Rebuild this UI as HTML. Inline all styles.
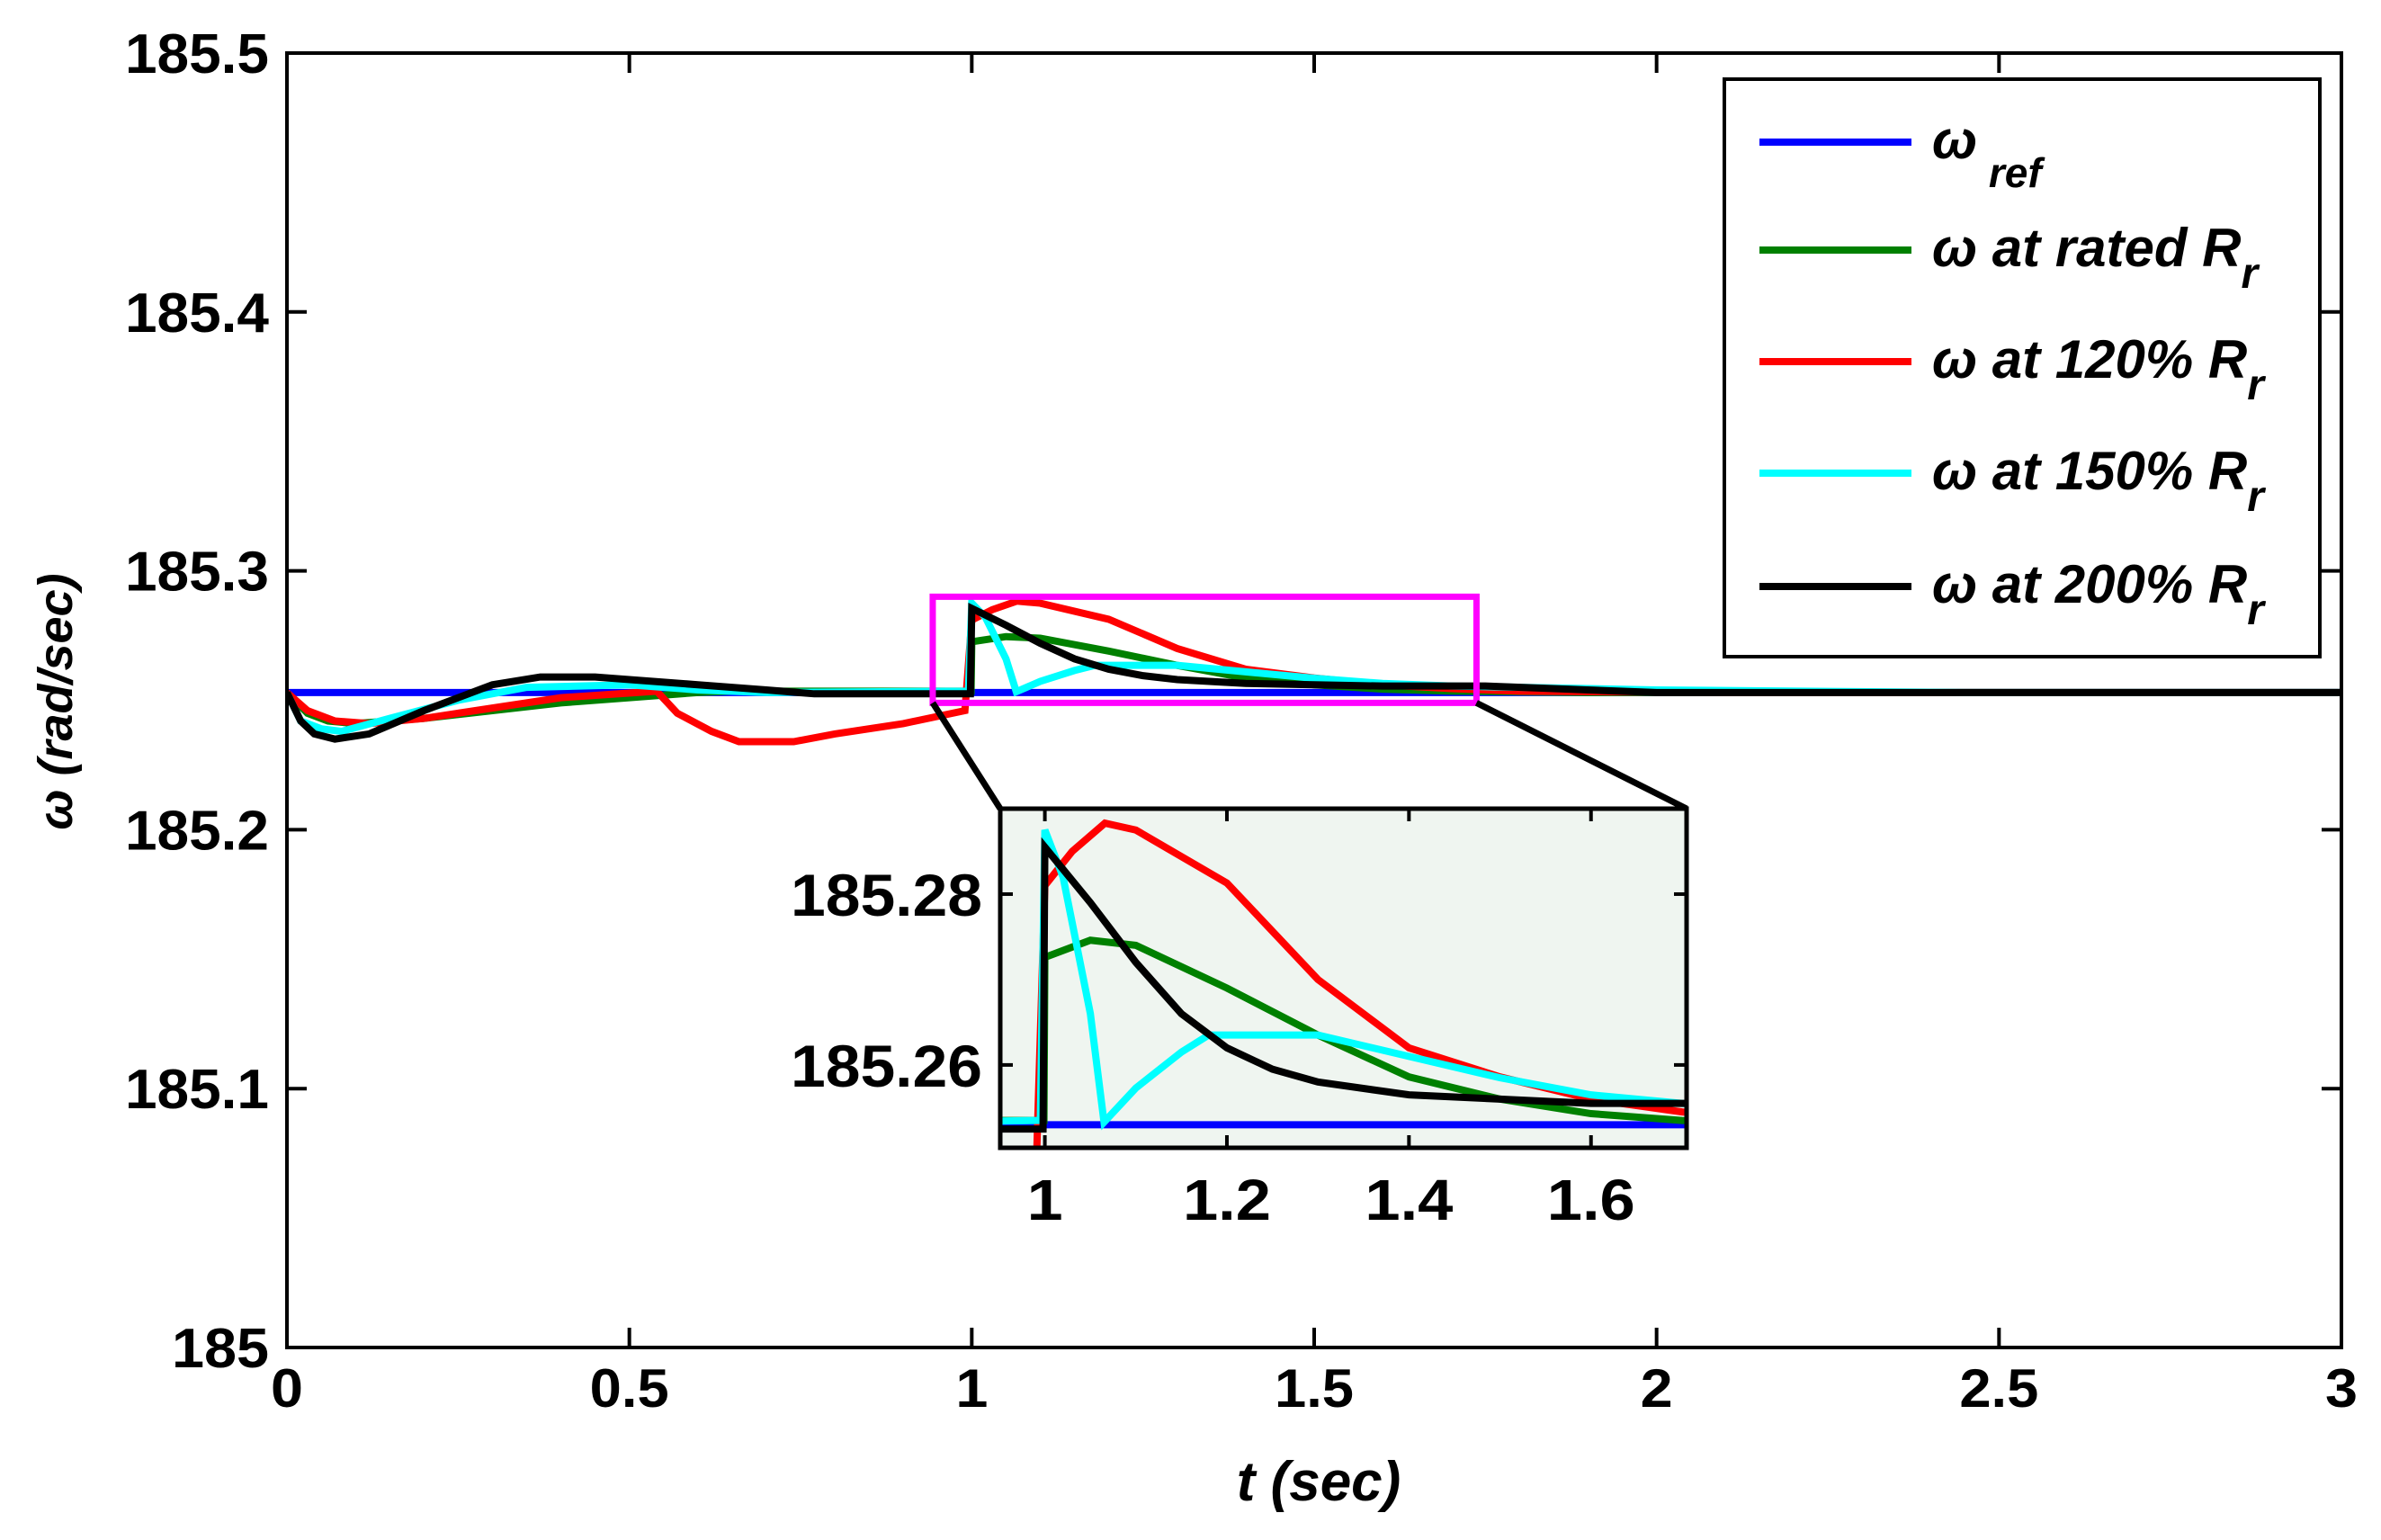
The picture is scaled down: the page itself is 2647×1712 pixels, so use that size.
<!DOCTYPE html>
<html><head><meta charset="utf-8"><style>
html,body{margin:0;padding:0;background:#fff}
svg{display:block}
text{font-family:"Liberation Sans",sans-serif;font-weight:bold}
</style></head><body>
<svg id="chart" width="2647" height="1712" viewBox="0 0 2647 1712" xmlns="http://www.w3.org/2000/svg"></svg>
<script>
const xTicks=[0,0.5,1,1.5,2,2.5,3];
const xTickLabels=["0","0.5","1","1.5","2","2.5","3"];
const yTicks=[185,185.1,185.2,185.3,185.4,185.5];
const yTickLabels=["185","185.1","185.2","185.3","185.4","185.5"];
const insetXTicks=[1,1.2,1.4,1.6];
const insetXTickLabels=["1","1.2","1.4","1.6"];
const insetYTicks=[185.26,185.28];
const insetYTickLabels=["185.26","185.28"];
const refT=[0,3];
const refV=[185.253,185.253];
const ratedT=[0,0.03,0.06,0.1,0.2,0.3,0.4,0.5,0.6,0.65,0.999,1.0,1.05,1.1,1.2,1.3,1.4,1.5,1.6,1.7,1.9,3];
const ratedV=[185.253,185.245,185.242,185.241,185.243,185.246,185.249,185.251,185.253,185.2535,185.2535,185.2726,185.2746,185.274,185.269,185.2635,185.2586,185.256,185.2543,185.2535,185.253,185.253];
const r120T=[0,0.03,0.07,0.12,0.2,0.3,0.4,0.54,0.57,0.62,0.66,0.74,0.8,0.9,0.99,1.0,1.03,1.066,1.1,1.2,1.3,1.4,1.5,1.6,1.7,1.8,2.1,3];
const r120V=[185.253,185.246,185.242,185.241,185.243,185.247,185.251,185.2535,185.245,185.238,185.234,185.234,185.237,185.241,185.246,185.281,185.285,185.2883,185.2875,185.2813,185.270,185.262,185.2586,185.256,185.2545,185.2535,185.253,185.253];
const r150T=[0,0.02,0.05,0.08,0.15,0.25,0.35,0.5,0.6,0.7,0.99,0.995,1.0,1.02,1.05,1.065,1.1,1.15,1.18,1.3,1.4,1.5,1.6,1.7,2.0,2.45,3];
const r150V=[185.253,185.242,185.239,185.238,185.243,185.250,185.255,185.256,185.254,185.253,185.2535,185.2535,185.2875,185.282,185.266,185.2533,185.2573,185.2615,185.2635,185.2635,185.261,185.2585,185.2565,185.2555,185.254,185.253,185.253];
const r200T=[0,0.02,0.04,0.07,0.12,0.2,0.3,0.37,0.45,0.6,0.7,0.77,0.998,1.0,1.05,1.1,1.15,1.2,1.25,1.3,1.4,1.5,1.6,1.75,2.0,3];
const r200V=[185.253,185.242,185.237,185.235,185.237,185.246,185.256,185.259,185.259,185.256,185.254,185.2525,185.2525,185.2855,185.279,185.272,185.266,185.262,185.2595,185.258,185.2565,185.256,185.2555,185.2555,185.253,185.253];
const series=[
 {name:"omega-ref",t:refT,v:refV,c:"#0000ff"},
 {name:"omega-rated",t:ratedT,v:ratedV,c:"#008000"},
 {name:"omega-120",t:r120T,v:r120V,c:"#ff0000"},
 {name:"omega-150",t:r150T,v:r150V,c:"#00ffff"},
 {name:"omega-200",t:r200T,v:r200V,c:"#000000"}];
const NS="http://www.w3.org/2000/svg";
const svg=document.getElementById('chart');
function mk(tag,attrs,parent){const e=document.createElementNS(NS,tag);for(const k in attrs)e.setAttribute(k,attrs[k]);(parent||svg).appendChild(e);return e;}
function numLen(s,d,p){let w=0;for(const ch of s)w+=(ch==='.')?p:d;return w;}
const L=319,R=2603,T=59,B=1498;
const X=t=>L+(t-0)/(3-0)*(R-L);
const Y=v=>B-(v-185)/(0.5)*(B-T);
const IL=1112,IR=1875,IT=899,IB=1276,IX0=0.951,IX1=1.705,IY0=185.2503,IY1=185.29;
const IXf=t=>IL+(t-IX0)/(IX1-IX0)*(IR-IL);
const IYf=v=>IB-(v-IY0)/(IY1-IY0)*(IB-IT);
const defs=mk('defs',{});
const cp=mk('clipPath',{id:'mainclip'},defs);mk('rect',{x:L,y:T,width:R-L,height:B-T},cp);
const cp2=mk('clipPath',{id:'insetclip'},defs);mk('rect',{x:IL,y:IT,width:IR-IL,height:IB-IT},cp2);
const gMain=mk('g',{'clip-path':'url(#mainclip)'});


series.forEach(s=>{
 const p=mk('polyline',{points:s.t.map((t,i)=>X(t)+','+Y(s.v[i])).join(' '),fill:'none',stroke:s.c,'stroke-width':8,'stroke-linejoin':'miter'},gMain);
 
 
});
const frame=mk('rect',{x:L,y:T,width:R-L,height:B-T,fill:'none',stroke:'#000','stroke-width':4});


xTicks.forEach((t,i)=>{
 mk('line',{x1:X(t),x2:X(t),y1:B,y2:B-22,stroke:'#000','stroke-width':4});
 mk('line',{x1:X(t),x2:X(t),y1:T,y2:T+22,stroke:'#000','stroke-width':4});
 const tx=mk('text',{x:X(t),y:B+66,'text-anchor':'middle','font-size':60,textLength:numLen(xTickLabels[i],36,16),lengthAdjust:'spacingAndGlyphs'});
 tx.textContent=xTickLabels[i];
 
 
});
yTicks.forEach((v,i)=>{
 mk('line',{x1:L,x2:L+22,y1:Y(v),y2:Y(v),stroke:'#000','stroke-width':4});
 mk('line',{x1:R,x2:R-22,y1:Y(v),y2:Y(v),stroke:'#000','stroke-width':4});
 const tx=mk('text',{x:L-20,y:Y(v)+22,'text-anchor':'end','font-size':62,textLength:numLen(yTickLabels[i],36,16),lengthAdjust:'spacingAndGlyphs'});
 tx.textContent=yTickLabels[i];
 
 
});
const xl=mk('text',{x:1466,y:1668,'text-anchor':'middle','font-size':62,'font-style':'italic'});
xl.textContent='t (sec)';


const yl=mk('text',{x:0,y:0,'text-anchor':'middle','font-size':54,'font-style':'italic',transform:'translate(80,780) rotate(-90)'});
yl.textContent='ω (rad/sec)';


const mb=mk('rect',{x:X(0.943),y:Y(185.29),width:X(1.737)-X(0.943),height:Y(185.249)-Y(185.29),fill:'none',stroke:'#ff00ff','stroke-width':7});


mk('line',{x1:X(0.943),y1:Y(185.249),x2:IL,y2:IT,stroke:'#000','stroke-width':7});
mk('line',{x1:X(1.737),y1:Y(185.249),x2:IR,y2:IT,stroke:'#000','stroke-width':7});
const ib=mk('rect',{x:IL,y:IT,width:IR-IL,height:IB-IT,fill:'#eff5f0'});


const gIn=mk('g',{'clip-path':'url(#insetclip)'});


series.forEach(s=>{
 const p=mk('polyline',{points:s.t.map((t,i)=>IXf(t)+','+IYf(s.v[i])).join(' '),fill:'none',stroke:s.c,'stroke-width':8},gIn);
 
 
});
const iframe=mk('rect',{x:IL,y:IT,width:IR-IL,height:IB-IT,fill:'none',stroke:'#000','stroke-width':5});


insetXTicks.forEach((t,i)=>{
 mk('line',{x1:IXf(t),x2:IXf(t),y1:IB,y2:IB-14,stroke:'#000','stroke-width':4});
 mk('line',{x1:IXf(t),x2:IXf(t),y1:IT,y2:IT+14,stroke:'#000','stroke-width':4});
 const tx=mk('text',{x:IXf(t),y:IB+80,'text-anchor':'middle','font-size':64,textLength:numLen(insetXTickLabels[i],40,18),lengthAdjust:'spacingAndGlyphs'});
 tx.textContent=insetXTickLabels[i];
 
 
});
insetYTicks.forEach((v,i)=>{
 mk('line',{x1:IL,x2:IL+14,y1:IYf(v),y2:IYf(v),stroke:'#000','stroke-width':4});
 mk('line',{x1:IR,x2:IR-14,y1:IYf(v),y2:IYf(v),stroke:'#000','stroke-width':4});
 const tx=mk('text',{x:IL-20,y:IYf(v)+24,'text-anchor':'end','font-size':66,textLength:numLen(insetYTickLabels[i],39,18),lengthAdjust:'spacingAndGlyphs'});
 tx.textContent=insetYTickLabels[i];
 
 
});
const lg=mk('g',{});


mk('rect',{x:1917,y:88,width:662,height:642,fill:'#fff',stroke:'#000','stroke-width':4},lg);
const legY=[158,278,402,526,652];
const legLabels=[['ω',' ref',true],['ω at rated R','r',false],['ω at 120% R','r',false],['ω at 150% R','r',false],['ω at 200% R','r',false]];
series.forEach((s,i)=>{
 const e=mk('g',{},lg);
 
 
 mk('line',{x1:1956,x2:2125,y1:legY[i],y2:legY[i],stroke:s.c,'stroke-width':8},e);
 const tx=mk('text',{x:2148,y:legY[i]+18,'font-size':60,'font-style':'italic'},e);
 tx.appendChild(document.createTextNode(legLabels[i][0]));
 const sub=mk('tspan',{dy:legLabels[i][2]?32:24,'font-size':legLabels[i][2]?46:48},tx);
 sub.textContent=legLabels[i][1];
});
</script>
</body></html>
